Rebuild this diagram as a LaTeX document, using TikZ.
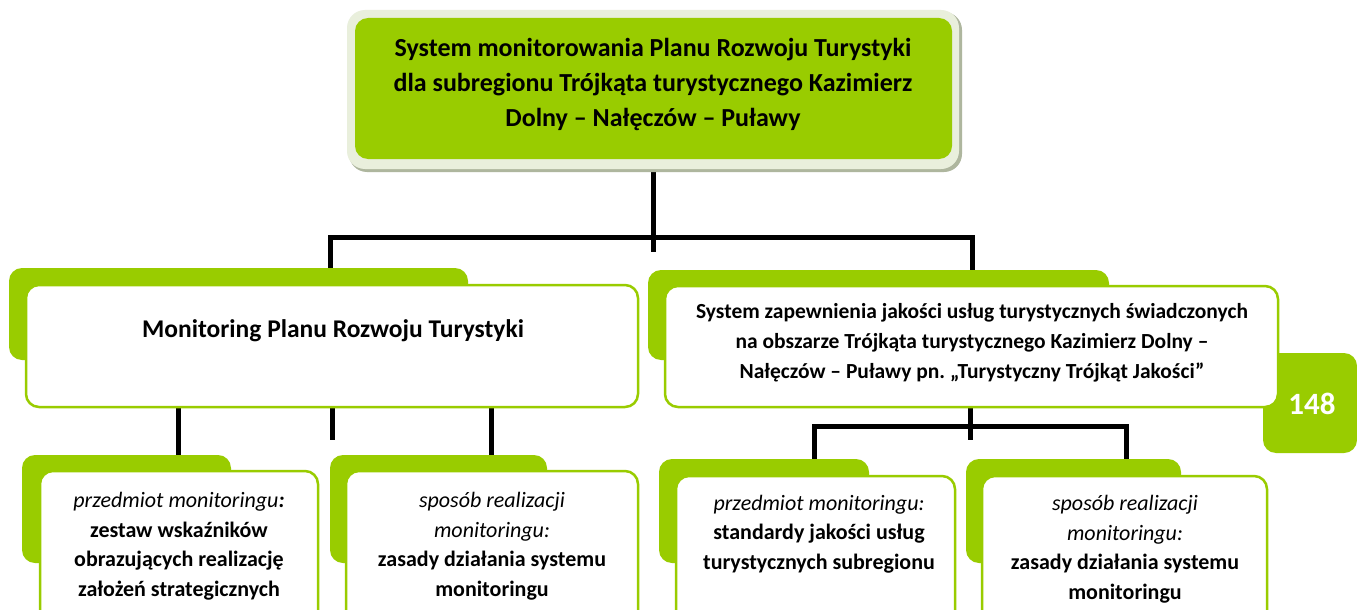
\documentclass[tikz,border=0pt]{standalone}
\usepackage{fontspec}
\setmainfont{Carlito}
\usetikzlibrary{backgrounds}
\definecolor{lime}{HTML}{99CC00}
\definecolor{pale}{HTML}{E9EFDC}
\definecolor{paleshade}{HTML}{AEB69E}
\frenchspacing
\begin{document}
\begin{tikzpicture}[x=1pt,y=-1pt,
  conn/.style={line width=5pt,black},
  box/.style={shape=rectangle,inner sep=0pt,minimum width=#1},
  tab/.style={fill=lime,rounded corners=13pt},
  card/.style={fill=white,draw=lime,line width=2.5pt,rounded corners=13pt},
  frame/.style={fill=pale,rounded corners=18pt},
  frameshade/.style={fill=paleshade,rounded corners=18pt},
  title/.style={align=center,font=\fontsize{26}{35}\selectfont\bfseries},
  head/.style={align=center,font=\fontsize{25.5}{30}\selectfont\bfseries},
  headsmall/.style={align=center,font=\fontsize{21.5}{30}\selectfont\bfseries},
  small/.style={align=center,font=\fontsize{22}{29.5}\selectfont},
  pagenum/.style={text=white,font=\fontsize{31}{31}\selectfont\bfseries}]
\useasboundingbox (0,0) rectangle (1357,610);
\clip (0,0) rectangle (1357,610);

% top box with its pale frame
\node[box=613pt,frameshade,minimum height=160pt] (topshade) at (655.5,92) {};
\node[box=612pt,frame,minimum height=159pt] (topframe) at (653,89.5) {};
\node[box=597pt,tab,minimum height=141pt] (top) at (653.5,88.5) {};
\node[title] (toptext) at (653,84) {System monitorowania Planu Rozwoju Turystyki\\
  dla subregionu Trójkąta turystycznego Kazimierz\\ Dolny – Nałęczów – Puławy};

% page number tab
\node[box=94pt,tab,minimum height=100pt] (pagetab) at (1310,403) {};
\node[pagenum] (pagetext) at (1312,404) {148};

% second level
\node[box=459pt,tab,minimum height=92pt] (tabL) at (238.5,314) {};
\node[box=612pt,card,minimum height=122pt] (monL) at (332,346) {};
\node[head] (monLtext) at (333,331) {Monitoring Planu Rozwoju Turystyki};

\node[box=461pt,tab,minimum height=90pt] (tabR) at (878.5,315) {};
\node[box=613pt,card,minimum height=121pt] (monR) at (971.5,346.5) {};
\node[headsmall] (monRtext) at (972,343) {System zapewnienia jakości usług turystycznych świadczonych\\
  na obszarze Trójkąta turystycznego Kazimierz Dolny –\\
  Nałęczów – Puławy pn. „Turystyczny Trójkąt Jakości”};

% third level
\node[box=209pt,tab,minimum height=108pt] (tabA) at (126.5,509) {};
\node[box=278pt,card,minimum height=169pt] (cardA) at (179,555.5) {};
\node[small] (textA) at (179,546) {\textit{przedmiot monitoringu}\textbf{\textit{:}}\\
  \textbf{zestaw wskaźników}\\ \textbf{obrazujących realizację}\\ \textbf{założeń strategicznych}};

\node[box=217pt,tab,minimum height=108pt] (tabB) at (438.5,509) {};
\node[box=292pt,card,minimum height=169pt] (cardB) at (492,555.5) {};
\node[small] (textB) at (492,546) {\textit{sposób realizacji}\\ \textit{monitoringu:}\\
  \textbf{zasady działania systemu}\\ \textbf{monitoringu}};

\node[box=210pt,tab,minimum height=104pt] (tabC) at (764,511) {};
\node[box=279pt,card,minimum height=164pt] (cardC) at (815.5,558) {};
\node[small] (textC) at (819,534) {\textit{przedmiot monitoringu:}\\
  \textbf{standardy jakości usług}\\ \textbf{turystycznych subregionu}};

\node[box=215pt,tab,minimum height=104pt] (tabD) at (1073.5,511) {};
\node[box=285pt,card,minimum height=164pt] (cardD) at (1124.5,558) {};
\node[small] (textD) at (1125,549) {\textit{sposób realizacji}\\ \textit{monitoringu:}\\
  \textbf{zasady działania systemu}\\ \textbf{monitoringu}};

% connectors, kept behind the boxes
\coordinate (topstub) at (653,252);
\coordinate (barL) at (330,237);
\coordinate (barR) at (972,237);
\coordinate (stubL) at (332,440);
\coordinate (stubR) at (970,440);
\coordinate (bar2L) at (814,426);
\coordinate (bar2R) at (1126,426);
\begin{pgfonlayer}{background}
  \fill[white] (0,0) rectangle (1357,610);
  \draw[conn] (top.south -| topstub) -- (topstub);
  \draw[conn] (barL |- tabL.north) -- (barL) -- (barR) -- (barR |- tabR.north);
  \draw[conn] (monL.south -| 178,0) -- (tabA.north -| 178,0);
  \draw[conn] (monL.south -| stubL) -- (stubL);
  \draw[conn] (monL.south -| 491,0) -- (tabB.north -| 491,0);
  \draw[conn] (monR.south -| stubR) -- (stubR);
  \draw[conn] (bar2L |- tabC.north) -- (bar2L) -- (bar2R) -- (bar2R |- tabD.north);
\end{pgfonlayer}
\end{tikzpicture}
\end{document}
